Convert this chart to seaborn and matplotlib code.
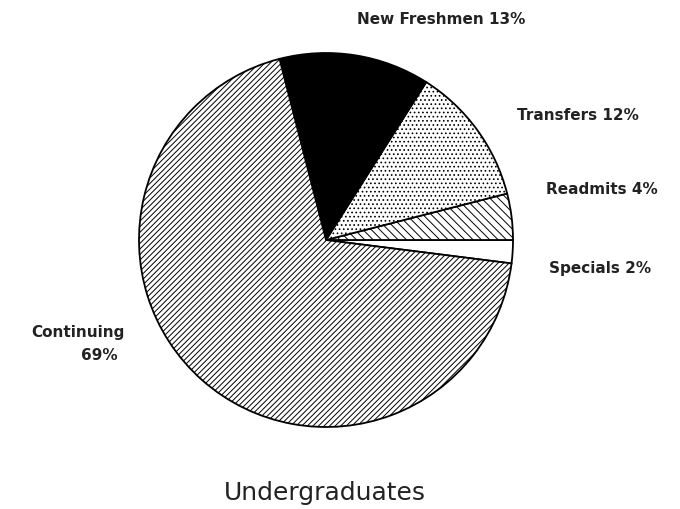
import matplotlib
matplotlib.use("Agg")
import matplotlib.pyplot as plt
import seaborn as sns

# Undergraduate enrollment shares (percent), counterclockwise from the east
categories = ["Specials", "Readmits", "Transfers", "New Freshmen", "Continuing"]
shares = [2, 4, 12, 13, 69]
hatches = ["", "\\\\\\\\", "....", "", "//////"]
fills = ["white", "white", "white", "black", "white"]
title = "Undergraduates"

sns.set_theme(style="white")
plt.rcParams["font.family"] = ["DejaVu Sans"]
plt.rcParams["hatch.linewidth"] = 0.7

fig = plt.figure(figsize=(6.8, 5.09), dpi=100)
ax = fig.add_axes([0, 0, 1, 1])

R = 187.0  # pie radius in pixels
cx, cy = 326.0, 240.0


def px(x, y):
    return (x - cx) / R, (cy - y) / R


# Specials sits just below the east axis, so start there
wedges, _ = ax.pie(shares, startangle=-3.6 * shares[0], counterclock=True,
                   colors=fills, radius=1.0,
                   wedgeprops=dict(edgecolor="black", linewidth=1.3))
for w, h in zip(wedges, hatches):
    w.set_hatch(h)

lab_kw = dict(fontsize=11, fontweight="bold", color="#222222", va="center")
ax.text(*px(441, 19), f"New Freshmen {shares[3]}%", ha="center", **lab_kw)
ax.text(*px(517, 115), f"Transfers {shares[2]}%", ha="left", **lab_kw)
ax.text(*px(546, 190), f"Readmits {shares[1]}%", ha="left", **lab_kw)
ax.text(*px(549, 268), f"Specials {shares[0]}%", ha="left", **lab_kw)
ax.text(*px(125, 332), "Continuing", ha="right", **lab_kw)
ax.text(*px(118, 355), f"{shares[4]}%", ha="right", **lab_kw)

ax.text(*px(325, 493), title, ha="center", va="center", fontsize=18, color="#222222")

ax.set_xlim(-cx / R, (680 - cx) / R)
ax.set_ylim(-(509 - cy) / R, cy / R)
ax.set_aspect("equal")
ax.axis("off")

fig.savefig("out.png", dpi=100, facecolor="white")
